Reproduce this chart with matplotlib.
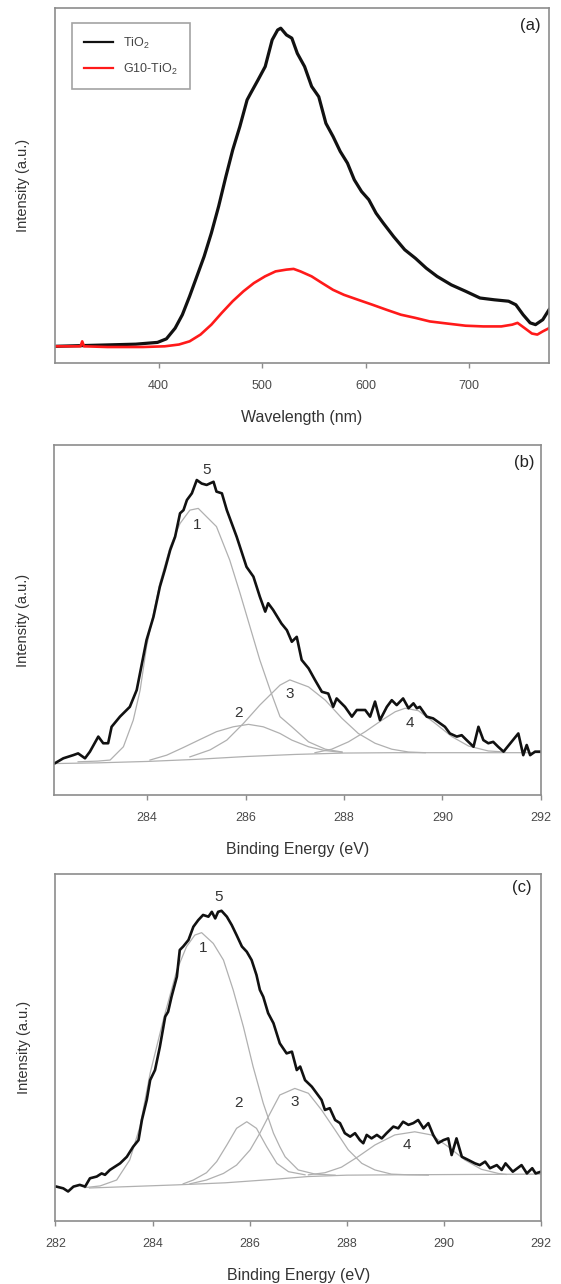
import matplotlib
matplotlib.use("Agg")
import matplotlib.pyplot as plt

plt.rcParams["font.family"] = ["Liberation Sans", "DejaVu Sans"]
plt.rcParams["mathtext.fontset"] = "custom"
plt.rcParams["mathtext.rm"] = "Liberation Sans"
plt.rcParams["mathtext.default"] = "regular"

# (a) photoluminescence spectra, wavelength (nm) vs intensity (a.u.)
pl_wl_tio2 = [300.7, 378, 399, 407.6, 416, 423, 430, 437, 444, 451, 458, 465, 471.6, 478.5,
              485.5, 489, 496, 503, 509.7, 515, 518, 523.5, 528.7, 534, 541, 547.8, 554.7,
              561.6, 568.5, 575.4, 582.4, 589, 596, 603, 610, 617, 627, 637.7, 648, 658.5,
              668.9, 682.7, 696.5, 710.4, 724.2, 738, 745, 752, 758.8, 764, 771, 777]
pl_tio2 = [4.7, 5.3, 5.8, 6.8, 9.8, 13.6, 18.8, 24.4, 30.0, 36.6, 44.1, 52.5, 60.0, 66.6,
           74.1, 76.0, 79.7, 83.5, 91.0, 93.8, 94.3, 92.4, 91.5, 87.2, 83.5, 77.9, 75.0,
           67.5, 63.8, 59.6, 56.3, 51.6, 48.3, 46.0, 42.2, 39.4, 35.6, 31.9, 29.5, 26.7,
           24.4, 22.0, 20.2, 18.3, 17.8, 17.4, 16.4, 13.6, 11.3, 10.8, 12.2, 15.0]
pl_wl_g10 = [300.7, 324.6, 326.3, 328, 350.5, 385, 406, 419.7, 430, 440.5, 451, 461, 471.6,
             482, 492, 502.8, 513, 523.5, 530.4, 537, 547.8, 558, 568.5, 579, 592.7, 606.6,
             620, 634, 648, 662, 679, 696.5, 713.6, 731, 741.5, 746.6, 753.6, 760.5, 765.7,
             771, 777]
pl_g10 = [4.7, 4.7, 6.1, 4.7, 4.5, 4.5, 4.7, 5.2, 6.1, 8.0, 10.8, 14.1, 17.4, 20.2, 22.5,
          24.4, 25.8, 26.3, 26.5, 25.8, 24.4, 22.5, 20.6, 19.2, 17.8, 16.4, 15.0, 13.6, 12.7,
          11.7, 11.1, 10.5, 10.3, 10.3, 10.8, 11.3, 9.8, 8.3, 8.0, 8.9, 9.8]
pl_labels = ["TiO$_2$", "G10-TiO$_2$"]

# (b) C1s XPS, binding energy (eV) vs intensity
b_be = [282.13, 282.30, 282.50, 282.60, 282.74, 282.84, 283.01, 283.11, 283.21, 283.28, 283.45,
        283.65, 283.79, 283.99, 284.13, 284.26, 284.36, 284.47, 284.57, 284.67, 284.74, 284.81,
        284.91, 285.01, 285.11, 285.21, 285.35, 285.41, 285.52, 285.62, 285.82, 286.02, 286.16,
        286.29, 286.40, 286.46, 286.56, 286.73, 286.84, 286.94, 287.04, 287.14, 287.28, 287.41,
        287.55, 287.68, 287.78, 287.85, 288.02, 288.16, 288.26, 288.43, 288.53, 288.63, 288.73,
        288.87, 288.97, 289.07, 289.20, 289.31, 289.41, 289.48, 289.54, 289.68, 289.81, 289.95,
        290.05, 290.15, 290.29, 290.39, 290.49, 290.63, 290.73, 290.83, 290.93, 291.03, 291.13,
        291.24, 291.54, 291.64, 291.71, 291.78, 291.88, 291.98]
b_int = [9.1, 10.5, 11.4, 11.9, 10.5, 12.4, 16.7, 14.8, 14.8, 19.5, 22.4, 25.2, 30.0, 44.3,
         50.9, 59.5, 64.3, 70.0, 73.8, 80.5, 81.4, 84.3, 86.2, 90.0, 89.0, 88.6, 89.5, 86.7,
         86.2, 81.4, 73.8, 65.2, 62.4, 56.7, 52.4, 54.8, 52.9, 49.0, 47.1, 43.8, 45.2, 38.6,
         36.2, 32.9, 29.5, 29.0, 25.2, 27.6, 25.2, 22.4, 24.3, 24.3, 22.4, 26.7, 21.4, 25.2,
         27.1, 25.7, 27.6, 24.8, 26.2, 24.8, 25.2, 22.4, 21.9, 20.5, 19.5, 17.6, 16.7, 17.1,
         15.7, 13.8, 19.5, 15.7, 14.8, 15.2, 13.8, 12.4, 17.6, 11.4, 14.3, 11.4, 12.4, 12.4]
b_c1_be = [282.6, 283.0, 283.25, 283.52, 283.72, 283.86, 283.99, 284.13, 284.26, 284.47, 284.67,
           284.87, 285.04, 285.41, 285.68, 285.89, 286.09, 286.29, 286.50, 286.70, 286.94,
           287.28, 287.62, 287.96]
b_c1 = [9.5, 9.7, 10.0, 13.8, 21.4, 30.0, 42.4, 51.9, 60.5, 70.9, 77.6, 81.4, 81.9, 76.7, 67.1,
        57.6, 48.1, 38.6, 30.0, 22.4, 19.5, 15.2, 13.1, 12.3]
b_c2_be = [284.06, 284.40, 284.74, 285.08, 285.41, 285.75, 286.06, 286.36, 286.70, 286.94,
           287.28, 287.62, 287.96]
b_c2 = [10.0, 11.4, 13.6, 15.9, 18.1, 19.5, 20.2, 19.5, 17.6, 15.7, 13.8, 12.7, 12.2]
b_c3_be = [284.87, 285.28, 285.62, 285.96, 286.29, 286.70, 286.90, 287.28, 287.62, 287.96,
           288.29, 288.63, 288.97, 289.31, 289.65]
b_c3 = [10.9, 12.9, 15.7, 20.5, 25.7, 31.4, 32.9, 30.9, 27.1, 21.9, 17.6, 14.8, 13.1, 12.3, 12.1]
b_c4_be = [287.41, 287.75, 288.09, 288.43, 288.77, 289.04, 289.24, 289.51, 289.85, 290.19,
           290.53, 290.93, 291.27]
b_c4 = [12.1, 13.1, 15.2, 18.1, 21.4, 23.8, 24.8, 24.1, 20.5, 16.7, 14.0, 12.6, 12.3]
b_bg_be = [282.12, 283.0, 284.0, 285.0, 286.0, 287.0, 288.0, 289.0, 292.0]
b_bg = [9.0, 9.2, 9.6, 10.2, 11.0, 11.6, 12.0, 12.1, 12.1]
b_peak_labels = ["5", "1", "2", "3", "4"]
b_label_be = [285.21, 285.01, 285.85, 286.90, 289.34]
b_label_int = [92.9, 77.1, 23.3, 29.0, 20.5]

# (c) C1s XPS
c_be = [282.02, 282.16, 282.26, 282.37, 282.50, 282.61, 282.71, 282.85, 282.95, 283.02, 283.12,
        283.23, 283.33, 283.47, 283.60, 283.71, 283.78, 283.88, 283.95, 284.05, 284.15, 284.26,
        284.32, 284.39, 284.50, 284.56, 284.63, 284.74, 284.84, 284.94, 285.04, 285.15, 285.22,
        285.29, 285.35, 285.42, 285.53, 285.63, 285.73, 285.84, 285.94, 286.04, 286.14, 286.21,
        286.28, 286.38, 286.49, 286.62, 286.76, 286.87, 286.97, 287.04, 287.14, 287.28, 287.38,
        287.48, 287.55, 287.65, 287.76, 287.86, 287.96, 288.07, 288.17, 288.27, 288.34, 288.41,
        288.51, 288.62, 288.72, 288.82, 288.96, 289.06, 289.16, 289.27, 289.37, 289.47, 289.58,
        289.68, 289.78, 289.88, 289.99, 290.09, 290.16, 290.26, 290.37, 290.50, 290.64, 290.74,
        290.85, 290.95, 291.09, 291.19, 291.27, 291.42, 291.60, 291.71, 291.82, 291.89, 292.0]
c_int = [9.9, 9.4, 8.5, 9.9, 10.4, 9.9, 12.3, 12.8, 13.7, 13.3, 14.7, 15.7, 16.6, 18.5, 21.4,
         23.3, 29.1, 34.9, 40.6, 43.5, 50.2, 58.9, 60.3, 64.6, 70.4, 78.1, 79.1, 81.0, 84.8,
         86.7, 88.2, 87.7, 89.1, 87.2, 89.1, 89.4, 87.7, 85.3, 82.4, 79.1, 77.6, 75.2, 70.9,
         66.6, 64.6, 59.9, 57.0, 51.2, 48.3, 48.8, 43.5, 44.5, 40.6, 38.7, 36.8, 34.9, 32.0,
         32.5, 29.1, 28.2, 25.3, 24.3, 25.3, 23.3, 22.4, 24.8, 23.8, 24.8, 23.8, 25.3, 27.2,
         26.7, 28.6, 27.7, 28.2, 29.1, 26.7, 28.2, 24.8, 22.4, 23.3, 23.8, 19.0, 23.8, 18.5,
         17.6, 16.6, 16.1, 17.1, 15.2, 16.1, 14.7, 16.6, 14.2, 16.1, 13.7, 15.2, 13.7, 14.2]
c_c1_be = [282.6, 282.92, 283.26, 283.53, 283.74, 283.95, 284.22, 284.50, 284.70, 284.87, 285.01,
           285.25, 285.46, 285.66, 285.87, 286.07, 286.28, 286.49, 286.62, 286.73, 287.00,
           287.35, 287.76]
c_c1 = [9.6, 10.1, 11.8, 17.6, 27.2, 42.6, 57.9, 72.3, 79.1, 82.4, 83.1, 80.0, 75.2, 66.6, 56.0,
        44.5, 33.9, 25.3, 21.4, 18.5, 14.7, 13.5, 13.2]
c_c2_be = [284.63, 284.84, 285.11, 285.32, 285.53, 285.73, 285.94, 286.14, 286.35, 286.56,
           286.80, 287.14]
c_c2 = [10.7, 11.8, 13.9, 17.1, 21.9, 26.7, 28.6, 26.7, 21.4, 16.6, 14.2, 13.3]
c_c3_be = [284.77, 285.11, 285.46, 285.73, 286.01, 286.21, 286.42, 286.62, 286.93, 287.21,
           287.48, 287.76, 288.03, 288.31, 288.58, 288.92, 289.27, 289.68]
c_c3 = [10.7, 11.8, 13.7, 16.1, 20.5, 25.3, 31.0, 36.3, 38.2, 36.8, 32.0, 26.2, 20.5, 16.6, 14.7,
        13.5, 13.3, 13.2]
c_c4_be = [287.21, 287.55, 287.89, 288.23, 288.58, 288.99, 289.40, 289.74, 290.09, 290.43,
           290.77, 291.12, 291.28]
c_c4 = [13.3, 13.9, 15.5, 18.5, 21.9, 24.8, 25.7, 24.8, 21.4, 17.6, 14.9, 13.7, 13.4]
c_bg_be = [282.7, 283.5, 284.5, 285.5, 286.5, 287.2, 288.0, 289.0, 292.0]
c_bg = [9.5, 9.9, 10.4, 11.0, 12.0, 12.8, 13.2, 13.3, 13.5]
c_peak_labels = ["5", "1", "2", "3", "4"]
c_label_be = [285.35, 285.04, 285.77, 286.93, 289.23]
c_label_int = [93.5, 78.6, 33.9, 34.4, 21.9]

SPINE = "#8c8c8c"
TICKTXT = "#4a4a4a"
FIT = "#b0b0b0"


def style_axes(ax, xlabel, ylab_x):
    for s in ax.spines.values():
        s.set_color(SPINE)
        s.set_linewidth(1.2)
    ax.set_yticks([])
    ax.tick_params(axis="x", direction="out", length=3.6, width=1.0, color=SPINE,
                   labelsize=9, labelcolor=TICKTXT, pad=8.5)
    ax.set_xlabel(xlabel, fontsize=11.5, color="#333333", labelpad=13)
    ax.set_ylabel("Intensity (a.u.)", fontsize=10.5, color="#333333")
    ax.yaxis.set_label_coords(ylab_x, 0.5)


fig = plt.figure(figsize=(5.61, 12.84), dpi=100)

# panel (a)
ax_a = fig.add_axes([0.098, 0.7173, 0.8806, 0.2765])
ax_a.plot(pl_wl_tio2, pl_tio2, color="#111111", lw=2.3, label=pl_labels[0])
ax_a.plot(pl_wl_g10, pl_g10, color="#ff1a1a", lw=1.9, label=pl_labels[1])
ax_a.set_xlim(300, 777)
ax_a.set_ylim(0, 100)
ax_a.set_xticks([400, 500, 600, 700])
style_axes(ax_a, "Wavelength (nm)", -0.05)
leg = ax_a.legend(loc="upper left", bbox_to_anchor=(0.034, 0.957), fancybox=False,
                  edgecolor=SPINE, fontsize=9, borderpad=1.0, handlelength=2.3,
                  labelspacing=0.85, handletextpad=0.8, borderaxespad=0)
leg.get_frame().set_linewidth(1.2)
for ln in leg.get_lines():
    ln.set_linewidth(1.6)
for t in leg.get_texts():
    t.set_color("#444444")
ax_a.text(0.962, 0.952, "(a)", transform=ax_a.transAxes, ha="center", va="center",
          fontsize=12, color="#222222")


def xps_panel(ax, be, inten, comps, bg, labels, lab_be, lab_int, xlim, tag, tag_xy):
    ax.plot(bg[0], bg[1], color=FIT, lw=0.9)
    for cx, cy in comps:
        ax.plot(cx, cy, color=FIT, lw=0.9)
    ax.plot(be, inten, color="#111111", lw=1.9)
    for s, x, y in zip(labels, lab_be, lab_int):
        ax.text(x, y, s, ha="center", va="center", fontsize=11, color="#333333")
    ax.set_xlim(*xlim)
    ax.set_ylim(0, 100)
    ax.set_xticks([t for t in range(282, 293, 2) if t >= xlim[0]])
    ax.text(tag_xy[0], tag_xy[1], tag, transform=ax.transAxes, ha="center", va="center",
            fontsize=12, color="#222222")


ax_b = fig.add_axes([0.0971, 0.3808, 0.8672, 0.2726])
xps_panel(ax_b, b_be, b_int,
          [(b_c1_be, b_c1), (b_c2_be, b_c2), (b_c3_be, b_c3), (b_c4_be, b_c4)],
          (b_bg_be, b_bg), b_peak_labels, b_label_be, b_label_int, (282.12, 292), "(b)",
          (0.965, 0.949))
style_axes(ax_b, "Binding Energy (eV)", -0.05)

ax_c = fig.add_axes([0.0989, 0.0491, 0.8654, 0.2702])
xps_panel(ax_c, c_be, c_int,
          [(c_c1_be, c_c1), (c_c2_be, c_c2), (c_c3_be, c_c3), (c_c4_be, c_c4)],
          (c_bg_be, c_bg), c_peak_labels, c_label_be, c_label_int, (282, 292), "(c)",
          (0.96, 0.96))
style_axes(ax_c, "Binding Energy (eV)", -0.05)

fig.savefig("out.png", dpi=100)
